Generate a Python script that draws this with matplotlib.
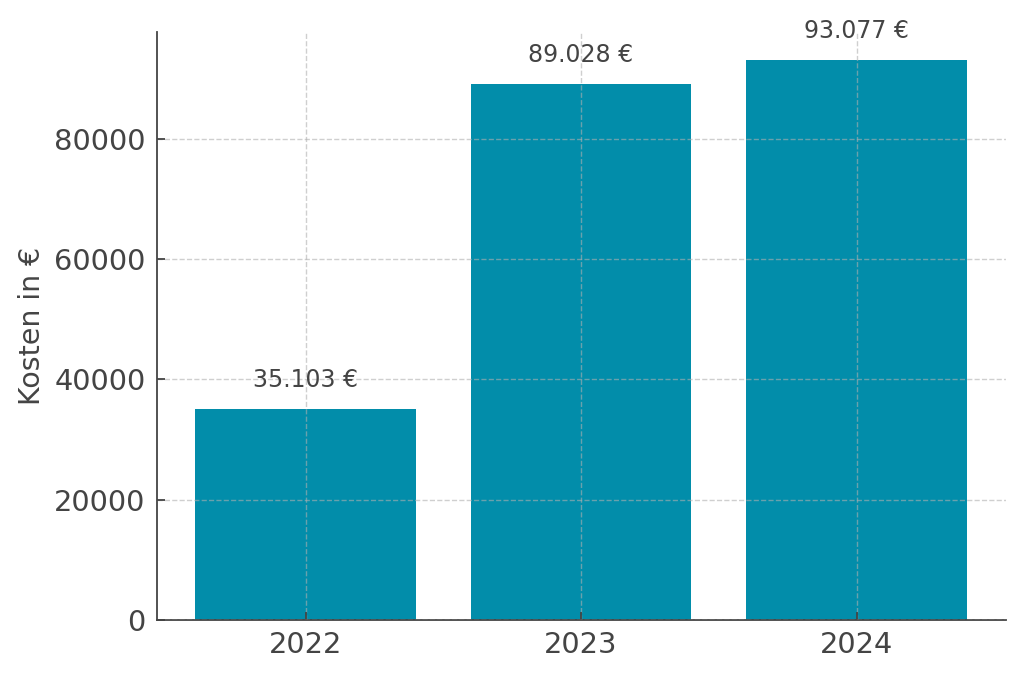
import matplotlib.pyplot as plt

# Jahreskosten
jahre = ["2022", "2023", "2024"]
kosten = [35103, 89028, 93077]

TEXT_COLOR = "#444444"
BAR_COLOR = "#028DAA"


def fmt_euro(wert):
    # deutsches Tausendertrennzeichen
    return f"{wert:,}".replace(",", ".") + " €"


fig, ax = plt.subplots(figsize=(10.24, 6.75), dpi=100)
fig.subplots_adjust(left=0.153, right=0.982, top=0.953, bottom=0.081)

bars = ax.bar(jahre, kosten, width=0.8, color=BAR_COLOR, zorder=2)

# Werte über den Balken
for bar, wert in zip(bars, kosten):
    ax.annotate(
        fmt_euro(wert),
        (bar.get_x() + bar.get_width() / 2, bar.get_height()),
        xytext=(0, 12),
        textcoords="offset points",
        ha="center",
        va="bottom",
        fontsize=17,
        color=TEXT_COLOR,
    )

ax.set_ylabel("Kosten in €", fontsize=20.5, color=TEXT_COLOR, labelpad=6)
ax.grid(True, linestyle="--", color="#b0b0b0", alpha=0.6, linewidth=1, zorder=3)
ax.set_axisbelow(False)

for side in ("top", "right"):
    ax.spines[side].set_visible(False)
for side in ("left", "bottom"):
    ax.spines[side].set_color(TEXT_COLOR)
    ax.spines[side].set_linewidth(1.3)

ax.tick_params(direction="in", labelsize=20.8, colors=TEXT_COLOR, length=6, width=1.3, pad=8)

fig.savefig("out.png", dpi=100)
